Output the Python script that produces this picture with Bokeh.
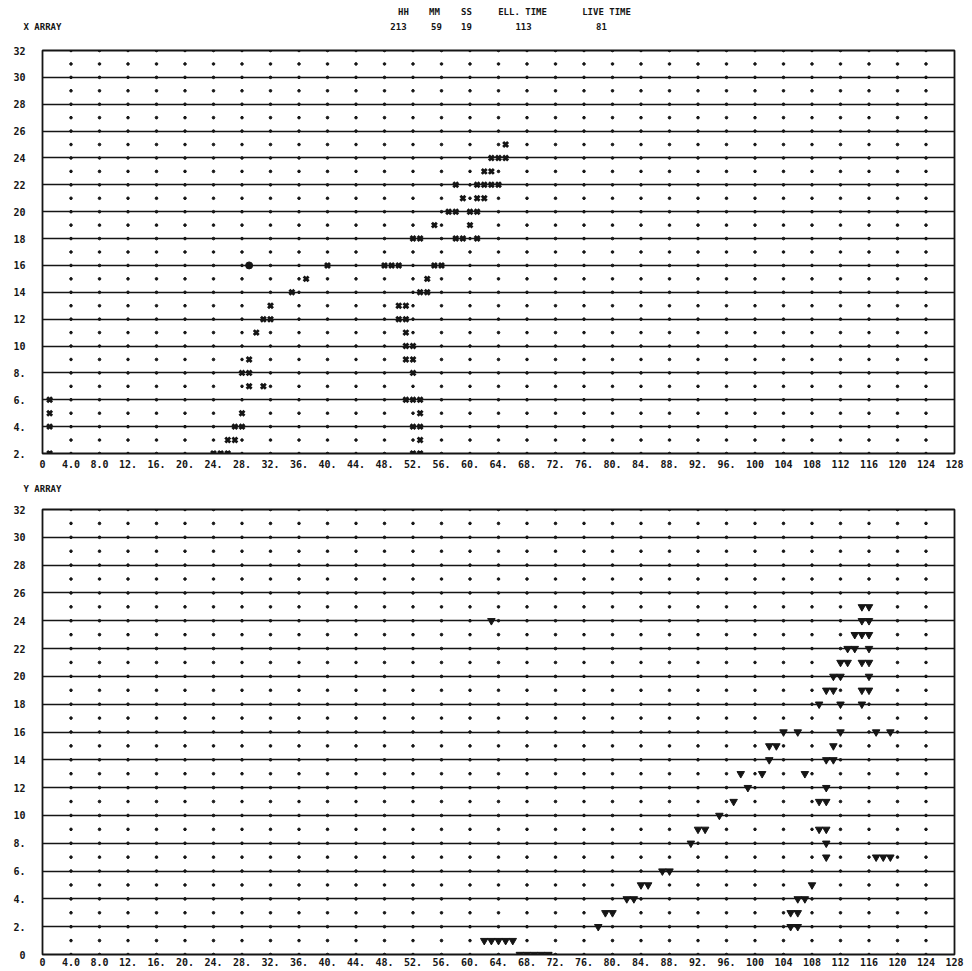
from bokeh.plotting import figure
from bokeh.layouts import column
from bokeh.models import FixedTicker, Range1d, LinearAxis
from bokeh.embed import file_html
from bokeh.resources import INLINE

FONT = "DejaVu Sans Mono"
INK = "#151515"
W = 970
LEFT, RIGHT = 42, 16            # chart borders (px)
PX_PER_UNIT = (W - LEFT - RIGHT) / 128.0

# ---------------- header / titles ----------------
header_names = ["HH", "MM", "SS", "ELL. TIME", "LIVE TIME"]
header_values = ["213", "59", "19", "113", "81"]
top_title = "X ARRAY"
bottom_title = "Y ARRAY"

# ---------------- axes ----------------
x_ticks = [0, 4, 8, 12, 16, 20, 24, 28, 32, 36, 40, 44, 48, 52, 56, 60, 64,
           68, 72, 76, 80, 84, 88, 92, 96, 100, 104, 108, 112, 116, 120, 124, 128]
x_tick_labels = ["0", "4.0", "8.0", "12.", "16.", "20.", "24.", "28.", "32.", "36.", "40.",
                 "44.", "48.", "52.", "56.", "60.", "64.", "68.", "72.", "76.", "80.",
                 "84.", "88.", "92.", "96.", "100", "104", "108", "112", "116", "120",
                 "124", "128"]
top_y_ticks = [2, 4, 6, 8, 10, 12, 14, 16, 18, 20, 22, 24, 26, 28, 30, 32]
top_y_labels = ["2.", "4.", "6.", "8.", "10", "12", "14", "16", "18", "20", "22",
                "24", "26", "28", "30", "32"]
bottom_y_ticks = [0, 2, 4, 6, 8, 10, 12, 14, 16, 18, 20, 22, 24, 26, 28, 30, 32]
bottom_y_labels = ["0", "2.", "4.", "6.", "8.", "10", "12", "14", "16", "18", "20",
                   "22", "24", "26", "28", "30", "32"]
grid_cols = [4, 8, 12, 16, 20, 24, 28, 32, 36, 40, 44, 48, 52, 56, 60, 64,
             68, 72, 76, 80, 84, 88, 92, 96, 100, 104, 108, 112, 116, 120, 124]

# ---------------- X ARRAY hits (channel, row) ----------------
x_hit_col = [1, 1, 1, 1,
             24, 25, 26, 52, 53,
             26, 27, 53,
             27, 28, 52, 53,
             28, 53,
             51, 52, 53,
             29, 31,
             28, 29, 52,
             29, 51, 52,
             51, 52,
             30, 51,
             31, 32, 50, 51,
             32, 50, 51,
             35, 53, 54,
             37, 54,
             40, 48, 49, 50, 55, 56,
             52, 53, 58, 59, 61,
             55, 60,
             57, 58, 60, 61,
             59, 61, 62,
             58, 61, 62, 63, 64,
             62, 63,
             63, 64, 65,
             65]
x_hit_row = [6, 5, 4, 2,
             2, 2, 2, 2, 2,
             3, 3, 3,
             4, 4, 4, 4,
             5, 5,
             6, 6, 6,
             7, 7,
             8, 8, 8,
             9, 9, 9,
             10, 10,
             11, 11,
             12, 12, 12, 12,
             13, 13, 13,
             14, 14, 14,
             15, 15,
             16, 16, 16, 16, 16, 16,
             18, 18, 18, 18, 18,
             19, 19,
             20, 20, 20, 20,
             21, 21, 21,
             22, 22, 22, 22, 22,
             23, 23,
             24, 24, 24,
             25]
x_blob_col = [29]
x_blob_row = [16]

# ---------------- Y ARRAY hits (channel, row) ----------------
y_hit_col = [67, 68, 69, 70, 71,
             62, 63, 64, 65, 66,
             78, 105, 106,
             79, 80, 105, 106,
             82, 83, 106, 107,
             84, 85, 108,
             87, 88,
             110, 117, 118, 119,
             91, 110,
             92, 93, 109, 110,
             95,
             97, 109, 110,
             99, 110,
             98, 101, 107,
             102, 110, 111,
             102, 103, 111,
             104, 106, 112, 117, 119,
             109, 112, 115,
             110, 111, 115, 116,
             111, 112, 116,
             112, 113, 115, 116,
             113, 114, 116,
             114, 115, 116,
             63, 115, 116,
             115, 116]
y_hit_row = [0, 0, 0, 0, 0,
             1, 1, 1, 1, 1,
             2, 2, 2,
             3, 3, 3, 3,
             4, 4, 4, 4,
             5, 5, 5,
             6, 6,
             7, 7, 7, 7,
             8, 8,
             9, 9, 9, 9,
             10,
             11, 11, 11,
             12, 12,
             13, 13, 13,
             14, 14, 14,
             15, 15, 15,
             16, 16, 16, 16, 16,
             18, 18, 18,
             19, 19, 19, 19,
             20, 20, 20,
             21, 21, 21, 21,
             22, 22, 22,
             23, 23, 23,
             24, 24, 24,
             25, 25]

assert len(x_hit_col) == len(x_hit_row)
assert len(y_hit_col) == len(y_hit_row)


def px_to_x(px_from_left):
    """canvas pixel (from the figure's left edge) -> channel units of the charts"""
    return round((px_from_left - LEFT) / PX_PER_UNIT, 2)


def style_axis(ax, size="10px"):
    ax.axis_line_color = None
    ax.major_tick_line_color = None
    ax.minor_tick_line_color = None
    ax.major_tick_out = 0
    ax.major_tick_in = 0
    ax.major_label_text_font = FONT
    ax.major_label_text_font_style = "bold"
    ax.major_label_text_font_size = size
    ax.major_label_text_color = INK


def text_row_axis(p, positions, labels, standoff, size):
    """a row of header text carried by an extra axis above the frame"""
    ax = LinearAxis(ticker=FixedTicker(ticks=positions),
                    major_label_overrides=dict(zip(positions, labels)),
                    major_label_standoff=standoff)
    style_axis(ax, size)
    p.add_layout(ax, "above")
    return ax


def make_panel(height, y_start, y_ticks, y_labels, border_top, border_bottom, x_standoff):
    p = figure(width=W, height=height,
               x_range=Range1d(0, 128), y_range=Range1d(y_start, 32),
               output_backend="svg", toolbar_location=None,
               min_border_left=LEFT, min_border_right=RIGHT,
               min_border_top=border_top, min_border_bottom=border_bottom,
               background_fill_color="white", border_fill_color="white")
    p.outline_line_color = INK
    p.outline_line_width = 1.8
    p.xgrid.visible = False
    p.ygrid.ticker = FixedTicker(ticks=y_ticks)
    p.ygrid.grid_line_color = INK
    p.ygrid.grid_line_width = 1.5
    for ax in (p.xaxis, p.yaxis):
        style_axis(ax)
    p.xaxis.ticker = FixedTicker(ticks=x_ticks)
    p.xaxis.major_label_overrides = dict(zip(x_ticks, x_tick_labels))
    p.xaxis.major_label_standoff = x_standoff
    p.yaxis.ticker = FixedTicker(ticks=y_ticks)
    p.yaxis.major_label_overrides = dict(zip(y_ticks, y_labels))
    p.yaxis.major_label_standoff = 17

    rows = list(range(y_start, 33))
    gx = [c for r in rows for c in grid_cols]
    gy = [r for r in rows for c in grid_cols]
    p.scatter(gx, gy, marker="circle", size=2.6, color=INK)
    return p


# ---------------- top chart (0..478 px) ----------------
p1 = make_panel(478, 2, top_y_ticks, top_y_labels, 50, 25, 6)
header_value_pos = [px_to_x(v) for v in [398, 436, 466, 523, 601]]
header_name_pos = [px_to_x(v) for v in [403, 434, 466, 522, 606]]
text_row_axis(p1, [0.0] + header_value_pos, [top_title] + header_values, 19, "9px")
text_row_axis(p1, header_name_pos, header_names, 2, "9px")
p1.scatter(x_hit_col, x_hit_row, marker="x", size=7, line_width=2.8, color=INK)
p1.scatter(x_blob_col, x_blob_row, marker="circle", size=7, color=INK)

# ---------------- bottom chart (478..970 px) ----------------
p2 = make_panel(492, 0, bottom_y_ticks, bottom_y_labels, 31, 16, 3)
text_row_axis(p2, [0.0], [bottom_title], 16, "9px")
p2.scatter(y_hit_col, y_hit_row, marker="inverted_triangle", size=7.5, color=INK)

layout = column(p1, p2, spacing=0)
open("out.html", "w").write(file_html(layout, INLINE))
